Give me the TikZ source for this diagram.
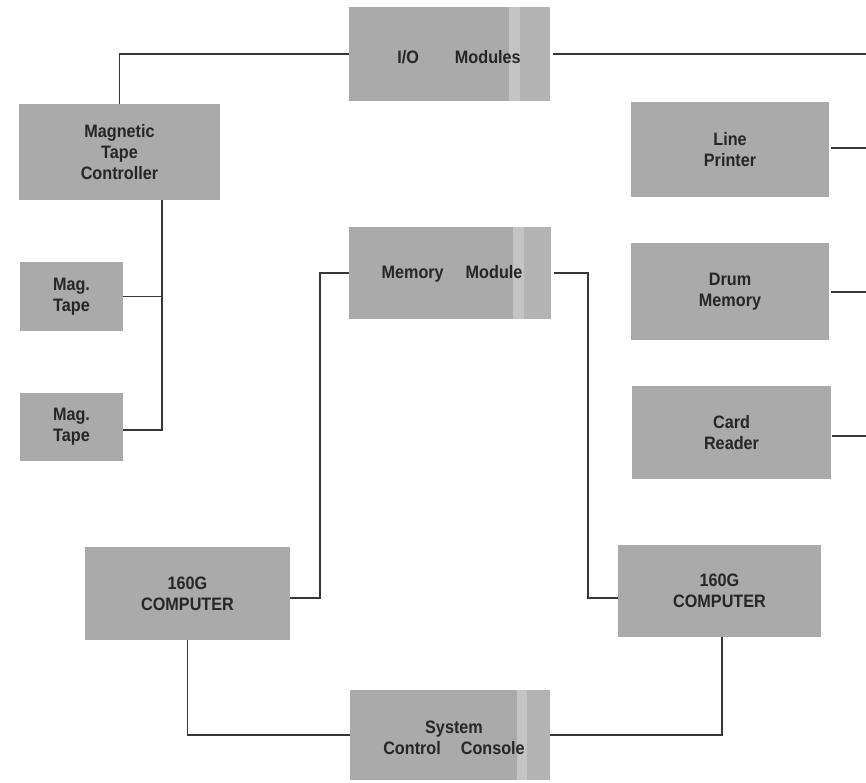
\documentclass[tikz,border=0pt]{standalone}
\usepackage{fontspec}
\setmainfont{Liberation Sans}[FakeStretch=0.9]
\definecolor{boxgray}{RGB}{170,170,170}
\definecolor{foldgray}{RGB}{196,196,196}
\definecolor{inkgray}{RGB}{38,38,38}
\definecolor{linegray}{RGB}{55,55,55}
\tikzset{
  blk/.style={draw=none, fill=boxgray, inner sep=0pt, align=center,
    text=inkgray, font=\fontsize{18}{21}\selectfont\bfseries},
  wire/.style={draw=linegray, line width=1.1pt},
  fold/.style={fill=foldgray, draw=none}
}
\begin{document}
\begin{tikzpicture}[x=1pt,y=-1pt]
\useasboundingbox (0,0) rectangle (866,782);
% boxes
\node[blk, minimum width=201, minimum height=94] (io) at (449.5,54) {};
\node[blk, minimum width=201, minimum height=96] (mtc) at (119.5,152) {Magnetic\\Tape\\Controller};
\node[blk, minimum width=198, minimum height=95] (lp) at (730,149.5) {Line\\Printer};
\node[blk, minimum width=202, minimum height=92] (mem) at (450,273) {};
\node[blk, minimum width=198, minimum height=97] (drum) at (730,291.5) {Drum\\Memory};
\node[blk, minimum width=103, minimum height=69] (mt1) at (71.5,296.5) {Mag.\\Tape};
\node[blk, minimum width=103, minimum height=68] (mt2) at (71.5,427) {Mag.\\Tape};
\node[blk, minimum width=199, minimum height=93] (cr) at (731.5,432.5) {Card\\Reader};
\node[blk, minimum width=205, minimum height=93] (c1) at (187.5,593.5) {160G\\COMPUTER};
\node[blk, minimum width=203, minimum height=92] (c2) at (719.5,591) {160G\\COMPUTER};
\node[blk, minimum width=200, minimum height=90] (scc) at (450,735) {};
% fold strips (page crease in the original)
\fill[fold] (509,7) rectangle (520,101);
\fill[fold, opacity=0.35] (520,7) rectangle (550,101);
\fill[fold] (513,227) rectangle (524,319);
\fill[fold, opacity=0.35] (524,227) rectangle (551,319);
\fill[fold] (517,690) rectangle (527,780);
\fill[fold, opacity=0.35] (527,690) rectangle (550,780);
% labels of the creased boxes
\node[blk, fill=none, anchor=center] (iot) at (459,57) {I/O\hspace{36pt}Modules};
\node[blk, fill=none, anchor=center] (memt) at (452,274) {Memory\hspace{22pt}Module};
\node[blk, fill=none, anchor=center] (scct) at (454,738) {System\\Control\hspace{20pt}Console};
% free ends at right edge
\coordinate (e1) at (866,54);
\coordinate (e2) at (866,148);
\coordinate (e3) at (866,292);
\coordinate (e4) at (866,436);
% connectors
\draw[wire] (io.west) -| (mtc.north);
\draw[wire] (io.east) ++(3,0) -- (e1);
\draw[wire] (lp.east |- e2) ++(2,0) -- (e2);
\draw[wire] (drum.east |- e3) ++(2,0) -- (e3);
\draw[wire] (cr.east |- e4) ++(1,0) -- (e4);
\coordinate (bus) at (162,430);
\draw[wire] (mtc.south -| bus) -- (bus) -- (mt2.east |- bus);
\draw[wire] (mt1.east) -- (mt1.east -| bus);
\coordinate (ml) at (320,598);
\coordinate (mr) at (588,598);
\draw[wire] (mem.west) -- (mem.west -| ml) -- (ml) -- (c1.east |- ml);
\draw[wire] (mem.east) ++(3,0) -- (mem.east -| mr) -- (mr) -- (c2.west |- mr);
\draw[wire] (c1.south) |- (scc.west);
\draw[wire] (c2.south -| 722,0) |- (scc.east);
\end{tikzpicture}
\end{document}
